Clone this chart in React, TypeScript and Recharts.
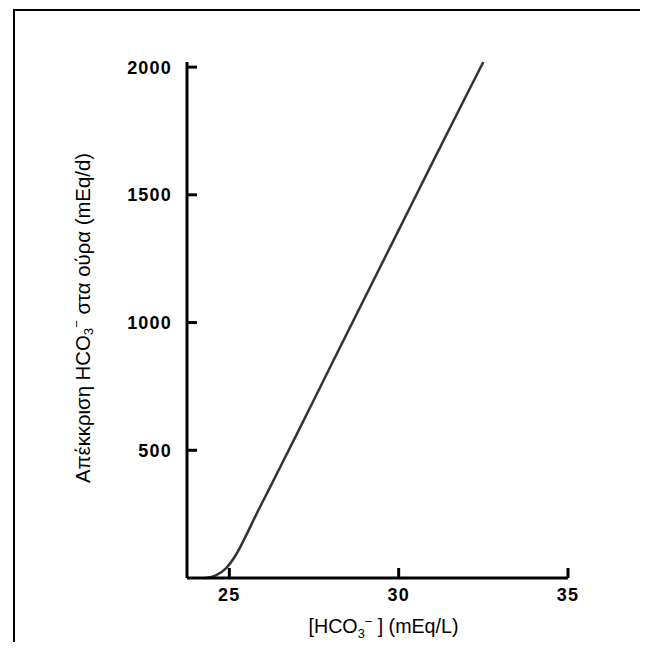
import React from 'react';
import { LineChart, Line, XAxis, YAxis, Label } from 'recharts';

// plasma [HCO3-] (mEq/L) vs urinary HCO3- excretion (mEq/d)
const plasmaHco3 = [24.3, 24.6, 24.9, 25.2, 25.5, 25.8, 26.2, 27, 28, 29, 30, 31, 32, 32.5];
const urineHco3 = [0, 10, 38, 92, 168, 250, 355, 565, 832, 1097, 1362, 1627, 1890, 2020];

const xTicks = [25, 30, 35];
const yTicks = [500, 1000, 1500, 2000];

const data = plasmaHco3.map((x, i) => ({ x, y: urineHco3[i] }));

const tickFont = { fontFamily: 'Liberation Sans, Arial, sans-serif', fontSize: 18, fontWeight: 700, letterSpacing: 1.2 };
const titleFont = { fontFamily: 'Liberation Sans Narrow, Arial Narrow, Liberation Sans, sans-serif', fontSize: 20 };

const YTick = (props: any) => {
  const { x, y, payload } = props;
  return (
    <g>
      <line x1={x} x2={x + 10} y1={y} y2={y} stroke="#000" strokeWidth={3} />
      <text x={x - 15} y={y} dy="0.36em" textAnchor="end" fill="#000" style={tickFont}>
        {payload.value}
      </text>
    </g>
  );
};

const XTick = (props: any) => {
  const { x, y, payload } = props;
  return (
    <g>
      <line x1={x} x2={x} y1={y - 10} y2={y} stroke="#000" strokeWidth={3} />
      <text x={x} y={y + 23} textAnchor="middle" fill="#000" style={tickFont}>
        {payload.value}
      </text>
    </g>
  );
};

const YTitle = (props: any) => {
  const vb = props.viewBox;
  const cx = vb.x - 44;
  const cy = vb.y + vb.height / 2 - 2;
  return (
    <text
      x={cx}
      y={cy}
      transform={`rotate(-90 ${cx} ${cy})`}
      textAnchor="middle"
      dominantBaseline="central"
      fill="#000"
      style={titleFont}
      textLength={330}
      lengthAdjust="spacingAndGlyphs"
    >
      Απέκκριση HCO
      <tspan fontSize={13} dy={5}>3</tspan>
      <tspan fontSize={13} dy={-12}>−</tspan>
      <tspan dy={7}>{'  στα ούρα (mEq/d)'}</tspan>
    </text>
  );
};

const XTitle = (props: any) => {
  const vb = props.viewBox;
  const cx = vb.x + vb.width / 2 + 6;
  return (
    <text
      x={cx}
      y={vb.y + 55}
      textAnchor="middle"
      fill="#000"
      style={titleFont}
      textLength={150}
      lengthAdjust="spacingAndGlyphs"
    >
      [HCO
      <tspan fontSize={13} dy={5}>3</tspan>
      <tspan fontSize={13} dy={-12}>−</tspan>
      <tspan dy={7}>{' ] (mEq/L)'}</tspan>
    </text>
  );
};

export default function App() {
  return (
    <div style={{ margin: -8, position: 'relative', width: 648, height: 650, overflow: 'hidden', background: '#fff' }}>
      <svg width={648} height={650} style={{ position: 'absolute', left: 0, top: 0 }}>
        <rect x={14} y={10} width={630} height={700} fill="none" stroke="#000" strokeWidth={2} />
      </svg>
      <div style={{ position: 'absolute', left: 0, top: 0 }}>
        <LineChart width={648} height={650} data={data} margin={{ top: 62, right: 80, left: 127, bottom: 42 }}>
          <XAxis
            dataKey="x"
            type="number"
            domain={[23.75, 35]}
            ticks={xTicks}
            allowDataOverflow
            height={30}
            axisLine={{ stroke: '#000', strokeWidth: 3 }}
            tickLine={false}
            tickSize={0}
            tickMargin={0}
            tick={<XTick />}
            interval={0}
          >
            <Label content={<XTitle />} />
          </XAxis>
          <YAxis
            type="number"
            domain={[0, 2000]}
            ticks={yTicks}
            width={60}
            axisLine={{ stroke: '#000', strokeWidth: 3 }}
            tickLine={false}
            tickSize={0}
            tickMargin={0}
            tick={<YTick />}
            interval={0}
          >
            <Label content={<YTitle />} />
          </YAxis>
          <Line
            type="monotone"
            dataKey="y"
            stroke="#333"
            strokeWidth={2.5}
            dot={false}
            isAnimationActive={false}
          />
        </LineChart>
      </div>
    </div>
  );
}
